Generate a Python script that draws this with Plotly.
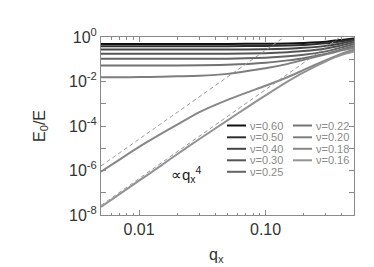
import plotly.graph_objects as go

# ---- data ----
nu_labels = ["ν=0.60", "ν=0.50", "ν=0.40", "ν=0.30", "ν=0.25",
             "ν=0.22", "ν=0.20", "ν=0.18", "ν=0.16"]
line_colors = ["#111111", "#2e2e2e", "#444444", "#555555", "#646464",
               "#727272", "#7e7e7e", "#878787", "#939393"]

q_top = [0.005, 0.01, 0.02, 0.05, 0.1, 0.15, 0.2, 0.3, 0.4, 0.5]
e_nu060 = [0.490, 0.490, 0.490, 0.490, 0.495, 0.511, 0.544, 0.616, 0.741, 0.865]
e_nu050 = [0.387, 0.387, 0.387, 0.388, 0.395, 0.411, 0.442, 0.522, 0.648, 0.780]
e_nu040 = [0.272, 0.272, 0.272, 0.274, 0.281, 0.299, 0.325, 0.399, 0.527, 0.690]
e_nu030 = [0.175, 0.175, 0.175, 0.177, 0.188, 0.208, 0.233, 0.305, 0.429, 0.585]
e_nu025 = [0.104, 0.104, 0.104, 0.106, 0.118, 0.136, 0.159, 0.226, 0.342, 0.490]
e_nu022 = [0.052, 0.052, 0.0522, 0.056, 0.069, 0.089, 0.112, 0.175, 0.278, 0.399]

q_low = [0.005, 0.007, 0.01, 0.015, 0.02, 0.03, 0.05, 0.07, 0.1, 0.15, 0.2, 0.3, 0.4, 0.5]
e_nu020 = [0.0155, 0.0156, 0.0158, 0.0163, 0.017, 0.018, 0.022, 0.029, 0.039,
           0.062, 0.094, 0.166, 0.25, 0.33]
e_nu018 = [8.9e-7, 3.1e-6, 1.15e-5, 4.5e-5, 1.15e-4, 4.2e-4, 1.5e-3, 3.1e-3,
           6.4e-3, 0.016, 0.033, 0.092, 0.18, 0.27]
e_nu016 = [2.3e-8, 8.7e-8, 3.5e-7, 1.7e-6, 5.4e-6, 2.6e-5, 1.8e-4, 6.4e-4,
           2.4e-3, 0.0102, 0.026, 0.081, 0.158, 0.225]

# q^4 guide lines (end points)
q_guide_a = [0.005, 0.1406]
e_guide_a = [1.6e-6, 1.0]
q_guide_b = [0.005, 0.39]
e_guide_b = [2.7e-8, 1.0]

y_tickvals = [1e-8, 1e-6, 1e-4, 1e-2, 1]
y_ticktext = ["10<sup>-8</sup>", "10<sup>-6</sup>", "10<sup>-4</sup>",
              "10<sup>-2</sup>", "10<sup>0</sup>"]
x_tickvals = [0.01, 0.1]
x_ticktext = ["0.01", "0.10"]

series = [(q_top, e_nu060), (q_top, e_nu050), (q_top, e_nu040), (q_top, e_nu030),
          (q_top, e_nu025), (q_top, e_nu022), (q_low, e_nu020), (q_low, e_nu018),
          (q_low, e_nu016)]

# ---- figure ----
W, H = 374, 267
L, R, T, B = 93, 28, 29, 60
pw, ph = W - L - R, H - T - B

def px(x):
    return (x - L) / pw

def py(y):
    return (H - B - y) / ph

fig = go.Figure()

for (qq, ee), name, col in zip(series, nu_labels, line_colors):
    fig.add_trace(go.Scatter(x=qq, y=ee, mode="lines", name=name,
                             line=dict(color=col, width=2, shape="spline", smoothing=0.6),
                             showlegend=False))

for qq, ee in [(q_guide_a, e_guide_a), (q_guide_b, e_guide_b)]:
    fig.add_trace(go.Scatter(x=qq, y=ee, mode="lines", showlegend=False,
                             line=dict(color="#9a9a9a", width=1, dash="4px,3px")))

font = "Liberation Sans, Arial, sans-serif"
axis_col = "#8a8a8a"

fig.update_layout(
    width=W, height=H,
    margin=dict(l=L, r=R, t=T, b=B),
    paper_bgcolor="white", plot_bgcolor="white",
    font=dict(family=font, color="#333333", size=15),
    xaxis=dict(type="log", range=[-2.30103, -0.30103],
               tickmode="array", tickvals=x_tickvals, ticktext=x_ticktext,
               ticks="inside", ticklen=5, tickcolor=axis_col, tickwidth=1,
               showline=True, linecolor=axis_col, linewidth=1, mirror="ticks",
               showgrid=False, zeroline=False,
               tickfont=dict(size=16, color="#333333"),
               minor=dict(tickmode="array",
                          tickvals=[0.006, 0.007, 0.008, 0.009, 0.02, 0.03, 0.04,
                                    0.05, 0.06, 0.07, 0.08, 0.09, 0.2, 0.3, 0.4],
                          ticks="inside", ticklen=2.5, tickcolor=axis_col, showgrid=False)),
    yaxis=dict(type="log", range=[-8, 0],
               tickmode="array", tickvals=y_tickvals, ticktext=y_ticktext,
               ticks="inside", ticklen=5, tickcolor=axis_col, tickwidth=1,
               showline=True, linecolor=axis_col, linewidth=1, mirror="ticks",
               showgrid=False, zeroline=False,
               tickfont=dict(size=16, color="#333333"),
               minor=dict(tickmode="array",
                          tickvals=[1e-7, 1e-5, 1e-3, 1e-1],
                          ticks="inside", ticklen=5, tickcolor=axis_col, showgrid=False)),
)

annotations = [
    dict(text="E<sub>0</sub>/E", x=px(32), y=py(118), textangle=-90,
         font=dict(size=16, color="#333333")),
    dict(text="q<sub>x</sub>", x=px(208), y=py(247),
         font=dict(size=16, color="#333333")),
    dict(text="∝q<sub>x</sub><sup>4</sup>", x=px(178), y=py(166),
         font=dict(size=15, color="#222222")),
]

# legend (two columns of sample lines and labels)
rows = [117.5, 129.3, 140.8, 152.3, 163.8]
shapes = []
for i, (name, col) in enumerate(zip(nu_labels, line_colors)):
    if i < 5:
        x0, x1, xt, yr = 219, 238, 240, rows[i]
    else:
        x0, x1, xt, yr = 285, 304, 306, rows[i - 5]
    shapes.append(dict(type="line", xref="paper", yref="paper",
                       x0=px(x0), x1=px(x1), y0=py(yr), y1=py(yr),
                       line=dict(color=col, width=2)))
    annotations.append(dict(text=name, x=px(xt), y=py(yr), xanchor="left",
                            font=dict(size=11, color="#8a8a8a")))

for a in annotations:
    a.setdefault("xref", "paper")
    a.setdefault("yref", "paper")
    a.setdefault("showarrow", False)
    a.setdefault("xanchor", "center")
    a.setdefault("yanchor", "middle")

fig.update_layout(annotations=annotations, shapes=shapes)

fig.write_html("out.html")
